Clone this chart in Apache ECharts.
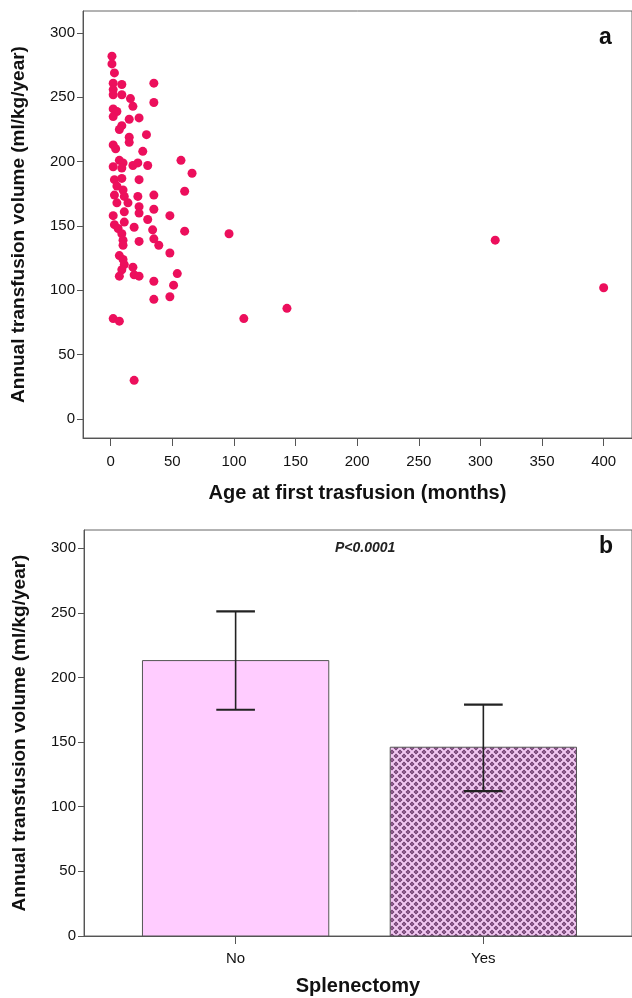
<!DOCTYPE html>
<html><head><meta charset="utf-8">
<script src="https://cdn.jsdelivr.net/npm/echarts@6/dist/echarts.min.js"></script>
<style>html,body{margin:0;padding:0;background:#fff}#c{width:632px;height:998px}</style>
</head><body><div id="c"></div>
<script>
// Panel a: scatter (age at first transfusion in months, annual volume ml/kg/year)
const ageMonths = [1,1,3,2,9,35,2,2,9,35,16,18,2,5,2,15,23,9,7,15,15,29,2,4,26,57,7,10,2,9,18,22,30,66,3,9,23,60,5,10,3,11,5,14,22,35,23,
  35,48,2,11,23,11,30,60,3,6,9,19,34,35,10,10,23,39,48,7,10,11,9,7,18,19,23,54,35,51,48,35,2,7,19,
  96,108,143,312,400];
const volume = [282,276,269,261,260,261,256,252,252,246,249,243,241,239,235,233,234,228,225,219,215,221,213,210,208,201,201,199,196,195,197,199,197,191,186,187,186,177,181,178,174,173,168,168,173,174,165,
  163,158,158,161,160,153,155,146,151,148,144,149,147,140,139,135,138,135,129,127,124,120,116,111,118,112,111,113,107,104,95,93,78,76,30,
  144,78,86,139,102];
const ageTicks = [0,50,100,150,200,250,300,350,400];
const volumeTicks = [0,50,100,150,200,250,300];

// Panel b: bar with CI
const categories = ['No','Yes'];
const barMeans = [213,146];
const ciLow = [175,112];
const ciHigh = [251,179];

function makePattern(){
  const c = document.createElement('canvas');
  c.width = 8; c.height = 8;
  const g = c.getContext('2d');
  g.fillStyle = '#f2c8f2'; g.fillRect(0,0,8,8);
  g.fillStyle = '#6a3a6a';
  const dia = (x,y,r) => { g.beginPath(); g.moveTo(x,y-r); g.lineTo(x+r,y); g.lineTo(x,y+r); g.lineTo(x,y+r); g.lineTo(x-r,y); g.closePath(); g.fill(); };
  [[4,4],[0,0],[8,0],[0,8],[8,8]].forEach(p => dia(p[0],p[1],2.5));
  g.fillStyle = '#c898c8';
  [[4,4],[0,0],[8,0],[0,8],[8,8]].forEach(p => { g.beginPath(); g.arc(p[0],p[1],0.7,0,Math.PI*2); g.fill(); });
  return c;
}
const pattern = { image: makePattern(), repeat: 'repeat' };

const font = 'Liberation Sans, Arial, sans-serif';
const lbl = { fontFamily: font, fontSize: 15, color: '#111' };
const nameStyle = { fontFamily: font, fontSize: 19, fontWeight: 'bold', color: '#111' };

const chart = echarts.init(document.getElementById('c'), null, { renderer: 'canvas' });
chart.setOption({
  animation: false,
  backgroundColor: '#fff',
  grid: [
    { left: 83, top: 11, width: 554, height: 427, show: true, borderColor: '#666', borderWidth: 1 },
    { left: 84, top: 530, width: 553, height: 406, show: true, borderColor: '#666', borderWidth: 1 }
  ],
  xAxis: [
    { type: 'value', gridIndex: 0, min: -22.5, max: 423,
      splitLine: { show: false },
      axisLine: { show: true, onZero: false, lineStyle: { color: '#555' } },
      axisTick: { show: true, customValues: ageTicks, length: 8, lineStyle: { color: '#555' } },
      axisLabel: Object.assign({ customValues: ageTicks, margin: 16 }, lbl),
      name: 'Age at first trasfusion (months)', nameLocation: 'middle', nameGap: 45,
      nameTextStyle: Object.assign({}, nameStyle, { fontSize: 20 }) },
    { type: 'value', gridIndex: 1, min: 0.388, max: 2.6,
      splitLine: { show: false },
      axisLine: { show: true, onZero: false, lineStyle: { color: '#555' } },
      axisTick: { show: true, customValues: [1,2], length: 8, lineStyle: { color: '#555' } },
      axisLabel: Object.assign({ customValues: [1,2], margin: 15, formatter: v => categories[Math.round(v)-1] }, lbl),
      name: 'Splenectomy', nameLocation: 'middle', nameGap: 40,
      nameTextStyle: Object.assign({}, nameStyle, { fontSize: 20 }) }
  ],
  yAxis: [
    { type: 'value', gridIndex: 0, min: -14.8, max: 317.1,
      splitLine: { show: false },
      axisLine: { show: true, onZero: false, lineStyle: { color: '#555' } },
      axisTick: { show: true, customValues: volumeTicks, length: 6, lineStyle: { color: '#555' } },
      axisLabel: Object.assign({ customValues: volumeTicks, margin: 8 }, lbl),
      name: 'Annual transfusion volume (ml/kg/year)', nameLocation: 'middle', nameGap: 55,
      nameTextStyle: nameStyle },
    { type: 'value', gridIndex: 1, min: 0, max: 314,
      splitLine: { show: false },
      axisLine: { show: true, onZero: false, lineStyle: { color: '#555' } },
      axisTick: { show: true, customValues: volumeTicks, length: 6, lineStyle: { color: '#555' } },
      axisLabel: Object.assign({ customValues: volumeTicks, margin: 8 }, lbl),
      name: 'Annual transfusion volume (ml/kg/year)', nameLocation: 'middle', nameGap: 55,
      nameTextStyle: nameStyle }
  ],
  series: [
    { type: 'scatter', xAxisIndex: 0, yAxisIndex: 0, symbolSize: 9,
      itemStyle: { color: '#ec0f5c', opacity: 1 },
      data: ageMonths.map((a,i) => [a, volume[i]]) },
    { type: 'custom', xAxisIndex: 1, yAxisIndex: 1,
      data: categories.map((c,i) => [i+1, barMeans[i]]),
      encode: { x: 0, y: 1 },
      renderItem: (params, api) => {
        const x = api.value(0), m = api.value(1);
        const p0 = api.coord([x - 0.376, m]);
        const p1 = api.coord([x + 0.376, 0]);
        return { type: 'rect',
          shape: { x: p0[0], y: p0[1], width: p1[0]-p0[0], height: p1[1]-p0[1] },
          style: { fill: params.dataIndex === 0 ? '#ffccff' : pattern, stroke: '#555', lineWidth: 1 } };
      } },
    { type: 'custom', xAxisIndex: 1, yAxisIndex: 1, z: 5,
      data: categories.map((c,i) => [i+1, ciLow[i], ciHigh[i]]),
      encode: { x: 0, y: [1,2] },
      renderItem: (params, api) => {
        const x = api.value(0), lo = api.value(1), hi = api.value(2);
        const a = api.coord([x, lo]), b = api.coord([x, hi]);
        const w = api.coord([x + 0.078, lo])[0] - a[0];
        const st = { stroke: '#222', lineWidth: 1.6 };
        return { type: 'group', children: [
          { type: 'line', shape: { x1: a[0], y1: a[1], x2: b[0], y2: b[1] }, style: st },
          { type: 'line', shape: { x1: a[0]-w, y1: a[1], x2: a[0]+w, y2: a[1] }, style: { stroke: '#222', lineWidth: 2.2 } },
          { type: 'line', shape: { x1: b[0]-w, y1: b[1], x2: b[0]+w, y2: b[1] }, style: { stroke: '#222', lineWidth: 2.2 } }
        ] };
      } }
  ],
  graphic: [
    { type: 'text', left: 599, top: 26, style: { text: 'a', font: 'bold 23px Liberation Sans, Arial', fill: '#111' } },
    { type: 'text', left: 599, top: 535, style: { text: 'b', font: 'bold 23px Liberation Sans, Arial', fill: '#111' } },
    { type: 'text', left: 335, top: 541, style: { text: 'P<0.0001', font: 'italic bold 14px Liberation Sans, Arial', fill: '#222' } }
  ]
});
</script>
</body></html>
